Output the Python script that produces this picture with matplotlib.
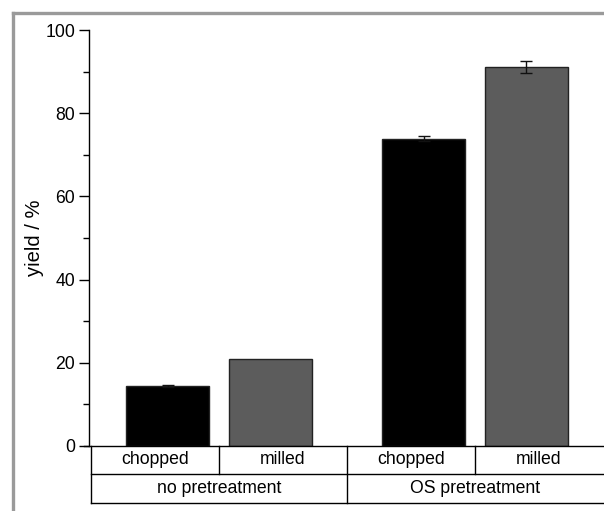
import matplotlib.pyplot as plt
from matplotlib.lines import Line2D
from matplotlib.ticker import MultipleLocator

plt.rcParams['font.family'] = ['Liberation Sans', 'DejaVu Sans']

# data
groups = ['no pretreatment', 'OS pretreatment']
forms = ['chopped', 'milled']
yield_vals = [14.4, 21.0, 73.9, 91.1]
yield_err = [0.3, 0.0, 0.6, 1.5]
bar_colors = ['#000000', '#5c5c5c']

W, H = 604, 511
fig = plt.figure(figsize=(W / 100, H / 100), dpi=100)

# axes box in pixels: left 89, right 603, top 30, bottom 446
ax = fig.add_axes([89 / W, 1 - 446 / H, (603 - 89) / W, (446 - 30) / H])

# cells are 1 unit wide, bars sit off-centre like the original
offsets = [0.6, 1.4]
pos = []
for g in range(len(groups)):
    for k in range(len(forms)):
        pos.append(2 * g + offsets[k])

for i, (p, v, e) in enumerate(zip(pos, yield_vals, yield_err)):
    col = bar_colors[i % 2]
    ax.bar(p, v, width=0.65, color=col, edgecolor='#222222', linewidth=1, zorder=2)
    if e > 0:
        ax.errorbar(p, v, yerr=e, fmt='none', ecolor='#111111', elinewidth=1,
                    capsize=4.5, capthick=1, zorder=3)

ax.set_xlim(-2 / 128, 4)
ax.set_ylim(0, 100)
ax.yaxis.set_major_locator(MultipleLocator(20))
ax.yaxis.set_minor_locator(MultipleLocator(10))
ax.tick_params(axis='y', which='major', direction='out', length=7, width=1,
               labelsize=12.7, pad=3)
ax.tick_params(axis='y', which='minor', direction='out', length=4, width=1)
ax.set_xticks([])
for s in ['top', 'right', 'bottom']:
    ax.spines[s].set_visible(False)
ax.spines['left'].set_linewidth(1)
ax.set_ylabel('yield / %', fontsize=14.5, va='center')
ax.yaxis.set_label_coords(-(89 - 34) / 514, 0.5)

# category table below the axis, in axes-x / pixel-y coordinates
trans = ax.get_xaxis_transform()
px = 1 / (446 - 30)  # one pixel in axes-y units
row1 = -28 * px
row2 = -57 * px
kw = dict(color='black', linewidth=1, transform=trans, clip_on=False)
ax.add_line(Line2D([-7 / 128, 4.1], [0, 0], **kw))
ax.add_line(Line2D([0, 4.1], [row1, row1], **kw))
ax.add_line(Line2D([0, 4.1], [row2, row2], **kw))
for xb in [0, 2]:
    ax.add_line(Line2D([xb, xb], [0, row2], **kw))
for xb in [1, 3]:
    ax.add_line(Line2D([xb, xb], [0, row1], **kw))

for g, gname in enumerate(groups):
    for k, f in enumerate(forms):
        ax.text(2 * g + k + 0.5, row1 / 2, f, transform=trans, ha='center',
                va='center', fontsize=12.7)
    ax.text(2 * g + 1, (row1 + row2) / 2, gname, transform=trans, ha='center',
            va='center', fontsize=12.7)

# grey frame on top and left edge
fig.add_artist(Line2D([13 / W, 1], [1 - 13 / H, 1 - 13 / H], color='#9a9a9a',
                      linewidth=2.4, transform=fig.transFigure))
fig.add_artist(Line2D([13 / W, 13 / W], [0, 1 - 13 / H], color='#9a9a9a',
                      linewidth=2.4, transform=fig.transFigure))

fig.savefig('out.png', dpi=100)
